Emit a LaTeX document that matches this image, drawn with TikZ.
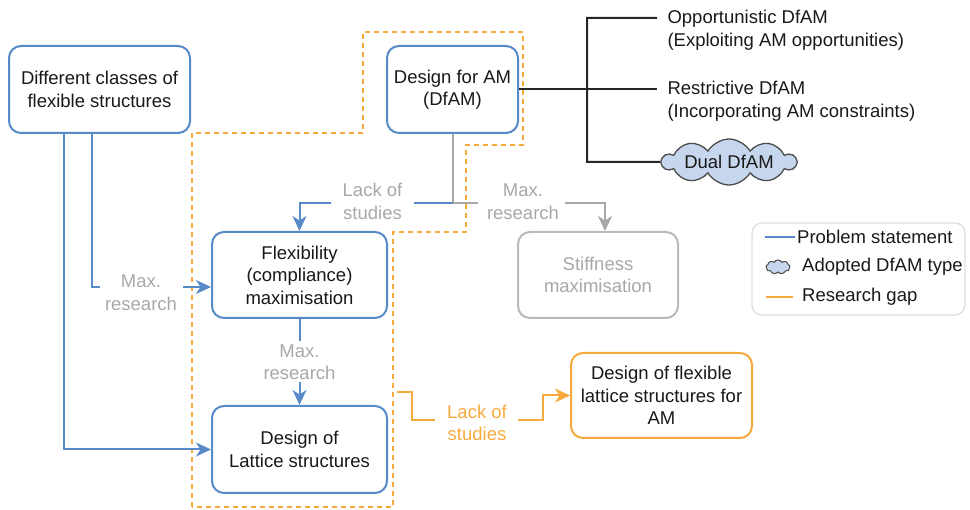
\documentclass[tikz,border=0pt]{standalone}
\usepackage{fontspec}
\setmainfont{Liberation Sans}
\usetikzlibrary{arrows.meta,shapes.symbols,calc}

\definecolor{probblue}{RGB}{88,138,200}
\definecolor{gapor}{RGB}{246,170,60}
\definecolor{softgrey}{RGB}{168,168,168}
\definecolor{boxgrey}{RGB}{185,185,185}
\definecolor{legendgrey}{RGB}{222,222,222}
\definecolor{cloudfill}{RGB}{198,214,236}
\definecolor{inktext}{RGB}{25,25,25}

\tikzset{
  every node/.style={font=\fontsize{18.5}{22.5}\selectfont, text=inktext},
  tip/.style={-{Stealth[length=15pt,width=14pt,inset=4.5pt]}},
  box/.style={draw, line width=2pt, rounded corners=12pt, fill=white,
    align=center, inner sep=4pt},
  probbox/.style={box, draw=probblue},
  greybox/.style={box, draw=boxgrey, text=softgrey},
  gapbox/.style={box, draw=gapor},
  probline/.style={draw=probblue, line width=2pt},
  greyline/.style={draw=softgrey, line width=2pt},
  gapline/.style={draw=gapor, line width=2pt},
  branchline/.style={draw=black!85, line width=2pt},
  gapframe/.style={draw=gapor, line width=2pt, dash pattern=on 5pt off 4pt},
  lbl/.style={align=center, text=softgrey, inner sep=0pt},
  gaplbl/.style={align=center, text=gapor, inner sep=0pt},
  puff/.style={cloud, cloud puffs=11, cloud puff arc=120, cloud ignores aspect,
    draw=black!70, line width=1.3pt, fill=cloudfill, inner sep=0pt},
}

\begin{document}
\begin{tikzpicture}[x=1pt, y=-1pt]
\useasboundingbox (0,0) rectangle (970,510);

% research-gap frame (dashed)
\draw[gapframe] (192,507) -- (192,133) -- (363,133) -- (363,32) -- (523,32)
  -- (523,145) -- (466,145) -- (466,232) -- (393,232) -- (393,507) -- cycle;

% main boxes
\node[probbox, minimum width=181pt, minimum height=87pt] (diff) at (99.5,89.5)
  {Different classes of\\flexible structures};
\node[probbox, minimum width=131pt, minimum height=87pt] (dfam) at (452.5,89.5)
  {Design for AM\\(DfAM)};
\node[probbox, minimum width=175pt, minimum height=86pt] (flex) at (299.5,275)
  {Flexibility\\(compliance)\\maximisation};
\node[greybox, minimum width=160pt, minimum height=86pt] (stiff) at (598,275)
  {Stiffness\\maximisation};
\node[probbox, minimum width=175pt, minimum height=87pt] (lat) at (299.5,449.5)
  {Design of\\Lattice structures};
\node[gapbox, minimum width=181pt, minimum height=85pt] (goal) at (661.5,395.5)
  {Design of flexible\\lattice structures for\\AM};

% DfAM types
\node[anchor=west, align=left] (opp) at (664,30)
  {Opportunistic DfAM\\(Exploiting AM opportunities)};
\node[anchor=west, align=left] (res) at (664,101)
  {Restrictive DfAM\\(Incorporating AM constraints)};
\node[puff, cloud puffs=10, minimum width=134pt, minimum height=46pt] (dual) at (729,162) {Dual DfAM};

\coordinate (bTop) at (587,18);
\coordinate (bBot) at (587,162);
\coordinate (oppL) at (657,18);
\coordinate (resL) at (657,89.5);
\draw[branchline] (dfam.east) -- (resL);
\draw[branchline] (oppL) -- (bTop) -- (bBot) -- (dual.west);

% labels on connectors
\node[lbl] (lackA) at (372.5,201.5) {Lack of\\studies};
\node[lbl] (maxA) at (523,201.5) {Max.\\research};
\node[lbl] (maxL) at (141,292.5) {Max.\\research};
\node[lbl] (maxM) at (299.5,362) {Max.\\research};
\node[gaplbl] (lackO) at (477,423) {Lack of\\studies};

% split below Design for AM
\coordinate (jn) at (452.5,203);
\draw[greyline] (dfam.south) -- (jn) -- ($(maxA.west |- jn)+(-9,0)$);
\draw[greyline, tip] ($(maxA.east |- jn)+(6,0)$) -| ($(stiff.north)+(7,0)$);
\draw[probline] (jn) -- ($(lackA.east |- jn)+(11,0)$);
\draw[probline, tip] ($(lackA.west |- jn)+(-11,0)$) -| (flex.north);

% problem statement connectors from the left
\coordinate (d1) at ($(diff.south west)+(56,0)$);
\coordinate (d2) at ($(diff.south west)+(84,0)$);
\coordinate (fw) at ($(flex.west)+(0,12)$);
\draw[probline, tip] (d1) |- (lat.west);
\draw[probline] (d2) |- ($(maxL.west |- fw)+(-5,0)$);
\draw[probline, tip] ($(maxL.east |- fw)+(6,0)$) -- (fw);
\draw[probline] (flex.south) -- ($(maxM.north)+(0,-3)$);
\draw[probline, tip] ($(maxM.south)+(0,2)$) -- (lat.north);

% research gap connector
\coordinate (o1) at (397,392);
\coordinate (oK) at (412,420);
\coordinate (oR) at (543,420);
\draw[gapline] (o1) -| (oK) -- ($(lackO.west |- oK)+(-12,0)$);
\draw[gapline, tip] ($(lackO.east |- oK)+(11,0)$) -- (oR) |- (goal.west);

% legend
\draw[draw=legendgrey, line width=1.3pt, rounded corners=10pt] (752,223) rectangle (965,315);
\coordinate (lgA1) at (765,237);
\coordinate (lgA2) at (795,237);
\draw[probline] (lgA1) -- (lgA2);
\node[anchor=west, inner sep=0pt] (lgAt) at (797,237) {Problem statement};
\node[puff, cloud puffs=9, minimum width=24pt, minimum height=14pt, line width=1pt] (lgB) at (778,267) {};
\node[anchor=west, inner sep=0pt] (lgBt) at (802,267) {Adopted DfAM type};
\coordinate (lgC1) at (766,297);
\coordinate (lgC2) at (793,297);
\draw[gapline] (lgC1) -- (lgC2);
\node[anchor=west, inner sep=0pt] (lgCt) at (802,297) {Research gap};
\end{tikzpicture}
\end{document}
